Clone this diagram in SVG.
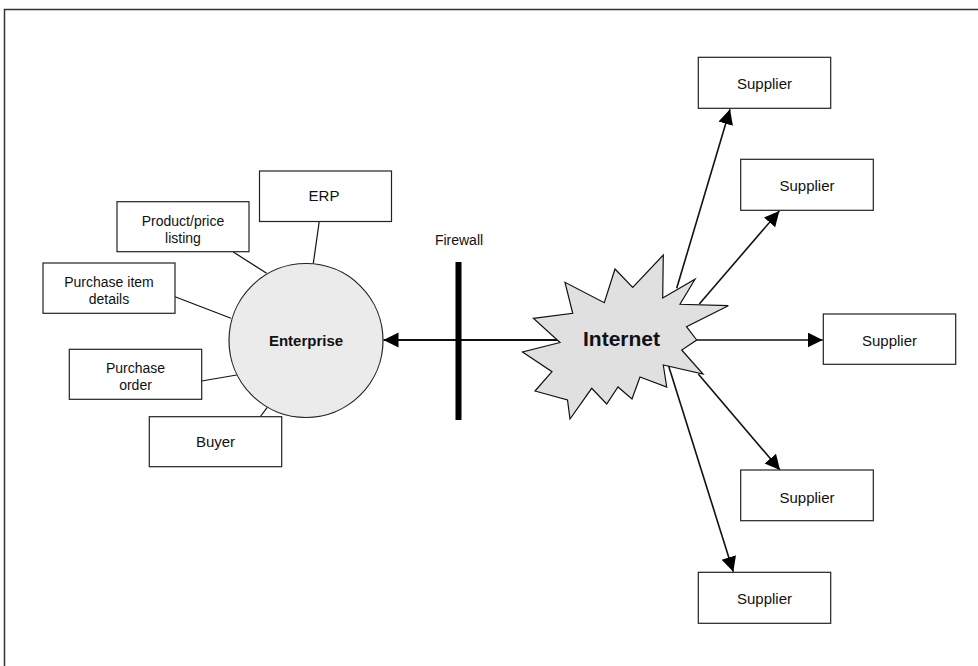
<svg xmlns="http://www.w3.org/2000/svg" width="978" height="666" viewBox="0 0 978 666">
<defs>
<style>
.box{fill:#fff;stroke:#222;stroke-width:1.2}
.t{font-family:"Liberation Sans",Arial,sans-serif;font-size:15px;fill:#111;text-anchor:middle}
.m{font-size:14px}
.b{font-weight:bold}
.ln{stroke:#111;stroke-width:1.2;fill:none}
.ar{stroke:#111;stroke-width:1.6;fill:none;marker-end:url(#ah)}
</style>
<marker id="ah" markerUnits="userSpaceOnUse" markerWidth="16" markerHeight="16" refX="15" refY="7.5" orient="auto">
<path d="M0,0 L15,7.5 L0,15 z" fill="#000"/>
</marker>
</defs>
<rect width="978" height="666" fill="#fff"/>
<path d="M4.5,666 V9.5 H978" fill="none" stroke="#333" stroke-width="1.5"/>

<g id="connectors">
<line class="ln" x1="319.3" y1="221" x2="313.3" y2="263.5"/>
<line class="ln" x1="233.3" y1="252" x2="266.7" y2="273.3"/>
<line class="ln" x1="175" y1="296.7" x2="231" y2="318.3"/>
<line class="ln" x1="201.7" y1="381" x2="236.7" y2="375"/>
<line class="ln" x1="260" y1="417" x2="267.3" y2="407.3"/>
<line class="ar" x1="560" y1="340" x2="383.5" y2="340" style="stroke-width:2"/>
<line class="ar" x1="676.7" y1="288.3" x2="730" y2="109.3"/>
<line class="ar" x1="699.3" y1="304" x2="779.3" y2="211"/>
<line class="ar" x1="696.7" y1="340" x2="822.7" y2="340"/>
<line class="ar" x1="698.3" y1="374" x2="780" y2="470"/>
<line class="ar" x1="668.3" y1="365" x2="733.3" y2="571.7"/>
</g>

<g id="firewall">
<rect x="455.5" y="262" width="6" height="158" fill="#000"/>
<text class="t" x="459" y="245" style="font-size:14px">Firewall</text>
</g>

<g id="enterprise">
<circle cx="306" cy="340.5" r="77" fill="#ebebeb" stroke="#222" stroke-width="1.2"/>
<text class="t b" x="306" y="346">Enterprise</text>
</g>

<g id="internet">
<polygon points="533.3,318.3 572.7,313.3 565,282.3 604.3,302.7 615,269 632.7,287.3 663.3,255 662.7,298 695,279.3 680,304.3 728.3,305.7 686.5,326.7 696.7,340 681.7,350 703,374 663.3,365 666.7,387 640,377 632,399 618,387 606.7,404 591.7,388.3 570,419 567.5,400 535,391 552,371.7 522.5,352 560,342.5" fill="#e0e0e0" stroke="#111" stroke-width="1.2" stroke-linejoin="miter"/>
<text class="t b" x="621.5" y="345.5" style="font-size:21px">Internet</text>
</g>

<g id="erp">
<rect class="box" x="259.5" y="171" width="132" height="50.5"/>
<text class="t" x="324" y="201">ERP</text>
</g>
<g id="product">
<rect class="box" x="117" y="201.7" width="132" height="50"/>
<text class="t m" x="183" y="226">Product/price</text>
<text class="t m" x="183" y="242.5">listing</text>
</g>
<g id="purchase-item">
<rect class="box" x="43" y="263" width="132" height="50.3"/>
<text class="t m" x="109" y="287">Purchase item</text>
<text class="t m" x="109" y="303.5">details</text>
</g>
<g id="purchase-order">
<rect class="box" x="69.3" y="349.3" width="132.4" height="50"/>
<text class="t m" x="135.5" y="373">Purchase</text>
<text class="t m" x="135.5" y="389.5">order</text>
</g>
<g id="buyer">
<rect class="box" x="149.3" y="416.7" width="132.4" height="50"/>
<text class="t" x="215.5" y="447.3">Buyer</text>
</g>

<g id="supplier1">
<rect class="box" x="698.3" y="57.3" width="132.4" height="51"/>
<text class="t" x="764.5" y="89.3">Supplier</text>
</g>
<g id="supplier2">
<rect class="box" x="740.7" y="159.3" width="132.6" height="51"/>
<text class="t" x="807" y="191.3">Supplier</text>
</g>
<g id="supplier3">
<rect class="box" x="823.3" y="314" width="132.4" height="50.3"/>
<text class="t" x="889.5" y="345.7">Supplier</text>
</g>
<g id="supplier4">
<rect class="box" x="740.7" y="470" width="132.6" height="50.7"/>
<text class="t" x="807" y="502.7">Supplier</text>
</g>
<g id="supplier5">
<rect class="box" x="698.3" y="572.3" width="132.4" height="51"/>
<text class="t" x="764.5" y="604.3">Supplier</text>
</g>
</svg>
